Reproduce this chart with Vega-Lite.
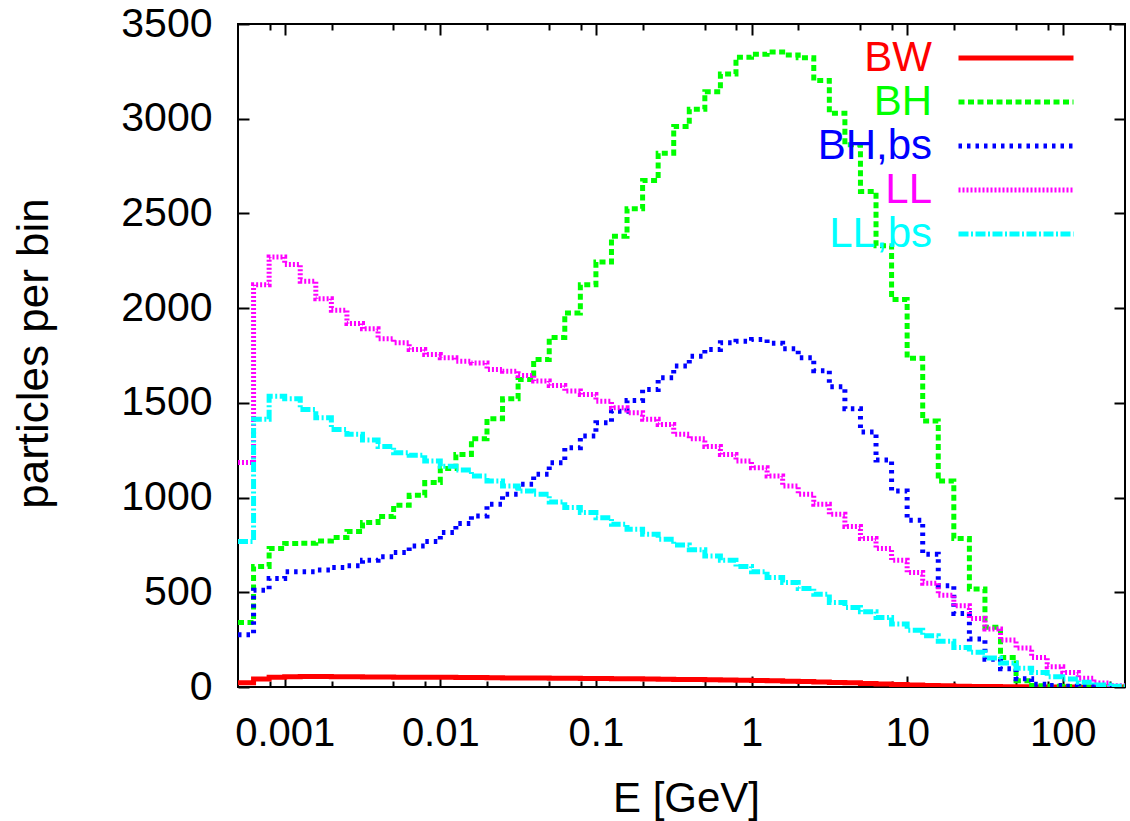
{
  "$schema": "https://vega.github.io/schema/vega-lite/v6.json",
  "width": 887,
  "height": 663,
  "autosize": {"type": "none"},
  "padding": {"left": 238, "top": 24, "right": 5, "bottom": 134},
  "background": "white",
  "config": {
    "font": "Liberation Sans",
    "view": {"stroke": "#000000", "strokeWidth": 2},
    "axis": {"grid": false, "domain": false, "labelColor": "#000000", "titleColor": "#000000", "tickColor": "#000000", "tickWidth": 2, "titleFontWeight": "normal", "labelFlush": false, "labelOverlap": false}
  },
  "data": {
    "values": [
      {"E": 0.000501187, "BW": 22, "BH": 341, "BH,bs": 276, "LL": 1185, "LL,bs": 768},
      {"E": 0.000630957, "BW": 42, "BH": 636, "BH,bs": 511, "LL": 2124, "LL,bs": 1413},
      {"E": 0.000794328, "BW": 52, "BH": 731, "BH,bs": 573, "LL": 2270, "LL,bs": 1535},
      {"E": 0.001, "BW": 54, "BH": 757, "BH,bs": 608, "LL": 2230, "LL,bs": 1522},
      {"E": 0.00125893, "BW": 55, "BH": 759, "BH,bs": 608, "LL": 2142, "LL,bs": 1465},
      {"E": 0.00158489, "BW": 55, "BH": 771, "BH,bs": 617, "LL": 2049, "LL,bs": 1421},
      {"E": 0.00199526, "BW": 54, "BH": 789, "BH,bs": 631, "LL": 1989, "LL,bs": 1360},
      {"E": 0.00251189, "BW": 54, "BH": 821, "BH,bs": 640, "LL": 1919, "LL,bs": 1334},
      {"E": 0.00316228, "BW": 53, "BH": 868, "BH,bs": 669, "LL": 1891, "LL,bs": 1304},
      {"E": 0.00398107, "BW": 53, "BH": 900, "BH,bs": 687, "LL": 1838, "LL,bs": 1269},
      {"E": 0.00501187, "BW": 52, "BH": 959, "BH,bs": 710, "LL": 1817, "LL,bs": 1237},
      {"E": 0.00630957, "BW": 52, "BH": 1012, "BH,bs": 745, "LL": 1782, "LL,bs": 1224},
      {"E": 0.00794328, "BW": 51, "BH": 1079, "BH,bs": 768, "LL": 1755, "LL,bs": 1193},
      {"E": 0.01, "BW": 51, "BH": 1153, "BH,bs": 815, "LL": 1738, "LL,bs": 1166},
      {"E": 0.0125893, "BW": 50, "BH": 1228, "BH,bs": 863, "LL": 1720, "LL,bs": 1145},
      {"E": 0.0158489, "BW": 50, "BH": 1311, "BH,bs": 903, "LL": 1711, "LL,bs": 1114},
      {"E": 0.0199526, "BW": 49, "BH": 1416, "BH,bs": 965, "LL": 1676, "LL,bs": 1087},
      {"E": 0.0251189, "BW": 48, "BH": 1522, "BH,bs": 1017, "LL": 1667, "LL,bs": 1061},
      {"E": 0.0316228, "BW": 48, "BH": 1623, "BH,bs": 1070, "LL": 1645, "LL,bs": 1035},
      {"E": 0.0398107, "BW": 47, "BH": 1729, "BH,bs": 1123, "LL": 1615, "LL,bs": 1017},
      {"E": 0.0501187, "BW": 46, "BH": 1845, "BH,bs": 1184, "LL": 1592, "LL,bs": 977},
      {"E": 0.0630957, "BW": 46, "BH": 1975, "BH,bs": 1263, "LL": 1562, "LL,bs": 947},
      {"E": 0.0794328, "BW": 45, "BH": 2124, "BH,bs": 1325, "LL": 1544, "LL,bs": 921},
      {"E": 0.1, "BW": 45, "BH": 2244, "BH,bs": 1395, "LL": 1509, "LL,bs": 894},
      {"E": 0.125893, "BW": 44, "BH": 2379, "BH,bs": 1456, "LL": 1474, "LL,bs": 859},
      {"E": 0.158489, "BW": 43, "BH": 2525, "BH,bs": 1513, "LL": 1448, "LL,bs": 833},
      {"E": 0.199526, "BW": 42, "BH": 2674, "BH,bs": 1571, "LL": 1413, "LL,bs": 806},
      {"E": 0.251189, "BW": 41, "BH": 2818, "BH,bs": 1632, "LL": 1386, "LL,bs": 780},
      {"E": 0.316228, "BW": 40, "BH": 2959, "BH,bs": 1694, "LL": 1334, "LL,bs": 750},
      {"E": 0.398107, "BW": 39, "BH": 3050, "BH,bs": 1746, "LL": 1311, "LL,bs": 724},
      {"E": 0.501187, "BW": 38, "BH": 3143, "BH,bs": 1782, "LL": 1269, "LL,bs": 692},
      {"E": 0.630957, "BW": 37, "BH": 3236, "BH,bs": 1817, "LL": 1228, "LL,bs": 669},
      {"E": 0.794328, "BW": 36, "BH": 3324, "BH,bs": 1825, "LL": 1193, "LL,bs": 636},
      {"E": 1, "BW": 34, "BH": 3340, "BH,bs": 1835, "LL": 1158, "LL,bs": 608},
      {"E": 1.25893, "BW": 33, "BH": 3352, "BH,bs": 1815, "LL": 1114, "LL,bs": 578},
      {"E": 1.58489, "BW": 31, "BH": 3337, "BH,bs": 1785, "LL": 1061, "LL,bs": 552},
      {"E": 1.99526, "BW": 29, "BH": 3322, "BH,bs": 1738, "LL": 1017, "LL,bs": 520},
      {"E": 2.51189, "BW": 27, "BH": 3202, "BH,bs": 1670, "LL": 965, "LL,bs": 490},
      {"E": 3.16228, "BW": 24, "BH": 3029, "BH,bs": 1585, "LL": 912, "LL,bs": 446},
      {"E": 3.98107, "BW": 22, "BH": 2862, "BH,bs": 1469, "LL": 847, "LL,bs": 420},
      {"E": 5.01187, "BW": 19, "BH": 2616, "BH,bs": 1346, "LL": 784, "LL,bs": 397},
      {"E": 6.30957, "BW": 16, "BH": 2330, "BH,bs": 1198, "LL": 731, "LL,bs": 367},
      {"E": 7.94328, "BW": 13, "BH": 2045, "BH,bs": 1035, "LL": 669, "LL,bs": 332},
      {"E": 10, "BW": 10, "BH": 1736, "BH,bs": 880, "LL": 605, "LL,bs": 300},
      {"E": 12.5893, "BW": 8, "BH": 1404, "BH,bs": 701, "LL": 548, "LL,bs": 270},
      {"E": 15.8489, "BW": 6, "BH": 1087, "BH,bs": 534, "LL": 485, "LL,bs": 241},
      {"E": 19.9526, "BW": 4, "BH": 784, "BH,bs": 388, "LL": 429, "LL,bs": 209},
      {"E": 25.1189, "BW": 3, "BH": 517, "BH,bs": 253, "LL": 362, "LL,bs": 183},
      {"E": 31.6228, "BW": 2, "BH": 315, "BH,bs": 146, "LL": 306, "LL,bs": 153},
      {"E": 39.8107, "BW": 1, "BH": 156, "BH,bs": 97, "LL": 248, "LL,bs": 127},
      {"E": 50.1187, "BW": 1, "BH": 33, "BH,bs": 44, "LL": 206, "LL,bs": 99},
      {"E": 63.0957, "BW": 0, "BH": 7, "BH,bs": 14, "LL": 156, "LL,bs": 77},
      {"E": 79.4328, "BW": 0, "BH": 4, "BH,bs": 8, "LL": 107, "LL,bs": 54},
      {"E": 100, "BW": 0, "BH": 2, "BH,bs": 4, "LL": 77, "LL,bs": 42},
      {"E": 125.893, "BW": 0, "BH": 1, "BH,bs": 2, "LL": 46, "LL,bs": 25},
      {"E": 158.489, "BW": 0, "BH": 0, "BH,bs": 1, "LL": 21, "LL,bs": 11},
      {"E": 199.526, "BW": 0, "BH": 0, "BH,bs": 0, "LL": 7, "LL,bs": 4},
      {"E": 251.189, "BW": 0, "BH": 0, "BH,bs": 0, "LL": 7, "LL,bs": 4}
    ]
  },
  "transform": [{"fold": ["BW", "BH", "BH,bs", "LL", "LL,bs"], "as": ["series", "value"]}],
  "layer": [
    {
      "mark": {"type": "line", "interpolate": "step-after", "strokeWidth": 5, "strokeCap": "butt", "clip": true},
      "encoding": {
        "x": {"field": "E", "type": "quantitative", "scale": {"type": "log", "domain": [0.000501187, 251.189], "nice": false},
          "axis": {"orient": "bottom", "values": [0.001, 0.01, 0.1, 1, 10, 100], "format": "~g", "ticks": false, "domain": false, "labelFontSize": 40, "labelPadding": 26, "title": "E [GeV]", "titleFontSize": 42, "titleX": 448, "titleY": 91, "titleBaseline": "top", "titleAnchor": "middle", "titleAlign": "center"}},
        "y": {"field": "value", "type": "quantitative", "scale": {"domain": [0, 3500], "nice": false, "zero": false},
          "axis": {"orient": "left", "values": [0, 500, 1000, 1500, 2000, 2500, 3000, 3500], "format": "d", "ticks": false, "domain": false, "labelFontSize": 41, "labelPadding": 26, "title": "particles per bin", "titleFontSize": 44, "titleX": -182, "titleY": 329, "titleAngle": 270, "titleBaseline": "bottom", "titleAlign": "center", "titleAnchor": "middle"}},
        "color": {"field": "series", "type": "nominal",
          "scale": {"domain": ["BW", "BH", "BH,bs", "LL", "LL,bs"], "range": ["#ff0000", "#00ff00", "#0000ff", "#ff00ff", "#00ffff"]},
          "legend": {"title": null, "orient": "none", "legendX": 757, "legendY": 13, "direction": "vertical", "symbolType": "M-3.2857,0L3.2857,0", "symbolSize": 1225, "symbolStrokeWidth": 5, "labelAlign": "right", "labelOffset": -105, "labelFontSize": 42, "labelLimit": 400, "rowPadding": 2, "padding": 0, "offset": 0,
            "encode": {"labels": {"update": {"fill": {"scale": "color", "field": "value"}}}}}},
        "strokeDash": {"field": "series", "type": "nominal",
          "scale": {"domain": ["BW", "BH", "BH,bs", "LL", "LL,bs"], "range": [[1, 0], [6, 3.5], [3.5, 5], [2, 2], [10, 2.5, 2, 2.5]]},
          "legend": {"title": null, "orient": "none", "legendX": 757, "legendY": 13, "direction": "vertical", "symbolType": "M-3.2857,0L3.2857,0", "symbolSize": 1225, "symbolStrokeWidth": 5, "labelAlign": "right", "labelOffset": -105, "labelFontSize": 42, "labelLimit": 400, "rowPadding": 2, "padding": 0, "offset": 0,
            "encode": {"labels": {"update": {"fill": {"scale": "color", "field": "value"}}}}}}
      }
    },
    {
      "mark": {"type": "point", "opacity": 0, "size": 1},
      "encoding": {
        "x": {"field": "E", "type": "quantitative", "axis": {"orient": "bottom", "values": [0.001, 0.01, 0.1, 1, 10, 100], "labels": false, "ticks": true, "tickSize": 11, "offset": -11, "domain": false, "title": null}},
        "y": {"field": "value", "type": "quantitative", "axis": {"orient": "left", "values": [0, 500, 1000, 1500, 2000, 2500, 3000, 3500], "labels": false, "ticks": true, "tickSize": 11, "offset": -11, "domain": false, "title": null}}
      }
    },
    {
      "mark": {"type": "point", "opacity": 0, "size": 1},
      "encoding": {
        "x": {"field": "E", "type": "quantitative", "axis": {"orient": "top", "values": [0.001, 0.01, 0.1, 1, 10, 100], "labels": false, "ticks": true, "tickSize": 11, "offset": -11, "domain": false, "title": null}},
        "y": {"field": "value", "type": "quantitative", "axis": {"orient": "right", "values": [0, 500, 1000, 1500, 2000, 2500, 3000, 3500], "labels": false, "ticks": true, "tickSize": 11, "offset": -11, "domain": false, "title": null}}
      }
    },
    {
      "mark": {"type": "point", "opacity": 0, "size": 1},
      "encoding": {
        "x": {"field": "E", "type": "quantitative", "axis": {"orient": "bottom", "values": [0.0008, 0.002, 0.005, 0.008, 0.02, 0.05, 0.08, 0.2, 0.5, 0.8, 2, 5, 8, 20, 50, 80, 200], "labels": false, "ticks": true, "tickSize": 6, "offset": -6, "domain": false, "title": null}},
        "y": {"field": "value", "type": "quantitative", "axis": null}
      }
    },
    {
      "mark": {"type": "point", "opacity": 0, "size": 1},
      "encoding": {
        "x": {"field": "E", "type": "quantitative", "axis": {"orient": "top", "values": [0.0008, 0.002, 0.005, 0.008, 0.02, 0.05, 0.08, 0.2, 0.5, 0.8, 2, 5, 8, 20, 50, 80, 200], "labels": false, "ticks": true, "tickSize": 6, "offset": -6, "domain": false, "title": null}},
        "y": {"field": "value", "type": "quantitative", "axis": null}
      }
    }
  ],
  "resolve": {"axis": {"x": "independent", "y": "independent"}}
}
